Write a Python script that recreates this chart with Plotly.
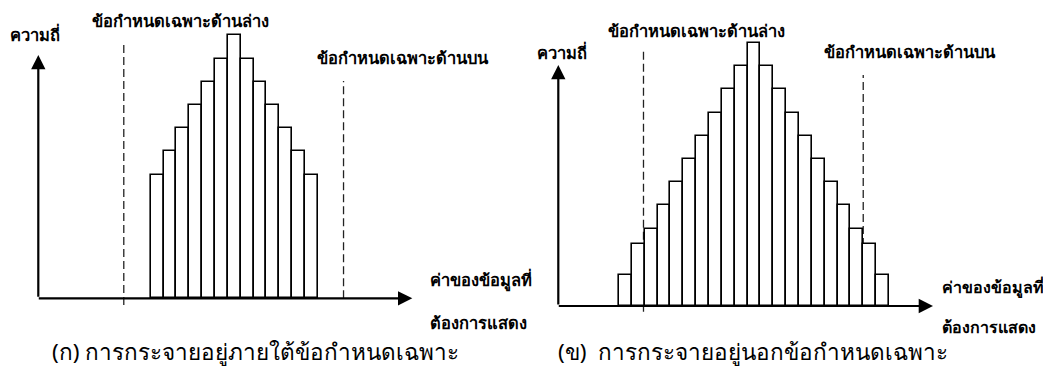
import plotly.graph_objects as go

# ---------------- data ----------------
left_bins = [-6, -5, -4, -3, -2, -1, 0, 1, 2, 3, 4, 5, 6]
left_freq = [16, 19, 22, 25, 28, 31, 34, 31, 28, 25, 22, 19, 16]

right_bins = [-10, -9, -8, -7, -6, -5, -4, -3, -2, -1, 0, 1, 2, 3, 4, 5, 6, 7, 8, 9, 10]
right_freq = [4, 8, 10, 13, 16, 19, 22, 25, 28, 31, 34, 31, 28, 25, 22, 19, 16, 13, 10, 8, 4]

LSL = -8.6
USL = 8.5

y_label = "ความถี่"
x_label_1 = "ค่าของข้อมูลที่"
x_label_2 = "ต้องการแสดง"
lsl_label = "ข้อกำหนดเฉพาะด้านล่าง"
usl_label = "ข้อกำหนดเฉพาะด้านบน"
captions = ["(ก) การกระจายอยู่ภายใต้ข้อกำหนดเฉพาะ", "(ข)  การกระจายอยู่นอกข้อกำหนดเฉพาะ"]

# ---------------- layout constants (screen pixels) ----------------
WIN_W, WIN_H = 1051, 372
OFF = 8                       # default page margin of the html body
W, H = WIN_W - OFF, WIN_H - OFF
PX_BIN = 12.85      # px per bin
PX_FREQ = 7.735     # px per frequency unit
SPLIT = 520         # screen px where the right panel's axis domain begins

panels = [
    dict(origin_x=38.3, base_y=298.3, center_x=234.3, ytip=55, xtip=412.3,
         lsl_top=42.3, lsl_bot=305, usl_top=81, usl_bot=298.3, dom=(OFF, SPLIT)),
    dict(origin_x=558.3, base_y=306, center_x=754.0, ytip=65, xtip=933,
         lsl_top=50, lsl_bot=311.7, usl_top=75, usl_bot=306, dom=(SPLIT, WIN_W)),
]

BOLD = "Tahoma, 'DejaVu Sans', 'Noto Sans', sans-serif"
REG = "'Noto Sans', 'DejaVu Sans', sans-serif"

fig = go.Figure()

def dx(p, px):
    return (px - p["center_x"]) / PX_BIN

def dy(p, py):
    return (p["base_y"] - py) / PX_FREQ

for i, (p, bins, freq) in enumerate(zip(panels, [left_bins, right_bins], [left_freq, right_freq])):
    xa = "x" if i == 0 else "x2"
    ya = "y" if i == 0 else "y2"
    fig.add_trace(go.Bar(
        x=bins, y=freq, width=1, xaxis=xa, yaxis=ya,
        marker=dict(color="white", line=dict(color="black", width=1.6)),
        showlegend=False, hoverinfo="skip",
    ))
    xkey = "xaxis" if i == 0 else "xaxis2"
    ykey = "yaxis" if i == 0 else "yaxis2"
    fig.update_layout(**{
        xkey: dict(domain=[(p["dom"][0] - OFF) / W, (p["dom"][1] - OFF) / W],
                   range=[dx(p, p["dom"][0]), dx(p, p["dom"][1])],
                   visible=False, fixedrange=True, anchor=ya),
        ykey: dict(domain=[0, 1], range=[dy(p, WIN_H), dy(p, OFF)],
                   visible=False, fixedrange=True, anchor=xa),
    })
    # spec-limit dashed lines (behind bars)
    for lim, top, bot in [(LSL, p["lsl_top"], p["lsl_bot"]), (USL, p["usl_top"], p["usl_bot"])]:
        fig.add_shape(type="line", xref=xa, yref=ya, x0=lim, x1=lim,
                      y0=dy(p, bot), y1=dy(p, top), layer="below",
                      line=dict(color="#222222", width=1.3, dash="8px,4px"))
    # axes with arrowheads
    ox = dx(p, p["origin_x"])
    fig.add_annotation(xref=xa, yref=ya, axref=xa, ayref=ya,
                       x=ox, y=dy(p, p["ytip"]), ax=ox, ay=0, text="",
                       showarrow=True, arrowhead=2, arrowsize=1.3, arrowwidth=2.2,
                       arrowcolor="black")
    fig.add_annotation(xref=xa, yref=ya, axref=xa, ayref=ya,
                       x=dx(p, p["xtip"]), y=0, ax=ox - 0.08, ay=0, text="",
                       showarrow=True, arrowhead=2, arrowsize=1.3, arrowwidth=2.2,
                       arrowcolor="black")

def txt(px, py, s, size, font, bold=True, xanchor="center"):
    fig.add_annotation(xref="paper", yref="paper", x=(px - OFF) / W, y=1 - (py - OFF) / H,
                       text=("<b>%s</b>" % s) if bold else s, showarrow=False,
                       xanchor=xanchor, yanchor="middle",
                       font=dict(family=font, size=size, color="black"))

LBL = 16.5
CAP = 22.5
# left panel texts
txt(8, 34, y_label, LBL, BOLD, xanchor="left")
txt(180, 22, lsl_label, LBL, BOLD)
txt(403, 59, usl_label, LBL, BOLD)
txt(428, 280, x_label_1, LBL, BOLD, xanchor="left")
txt(428, 323, x_label_2, LBL, BOLD, xanchor="left")
txt(50, 351, captions[0], CAP, REG, bold=False, xanchor="left")

# right panel texts
txt(535, 52, y_label, LBL, BOLD, xanchor="left")
txt(696, 31, lsl_label, LBL, BOLD)
txt(910, 52, usl_label, LBL, BOLD)
txt(940, 287, x_label_1, 16, BOLD, xanchor="left")
txt(940, 327, x_label_2, 16, BOLD, xanchor="left")
txt(556, 351, captions[1], CAP, REG, bold=False, xanchor="left")

fig.update_layout(width=W, height=H, margin=dict(l=0, r=0, t=0, b=0),
                  paper_bgcolor="white", plot_bgcolor="white", bargap=0)

fig.write_html("out.html")
